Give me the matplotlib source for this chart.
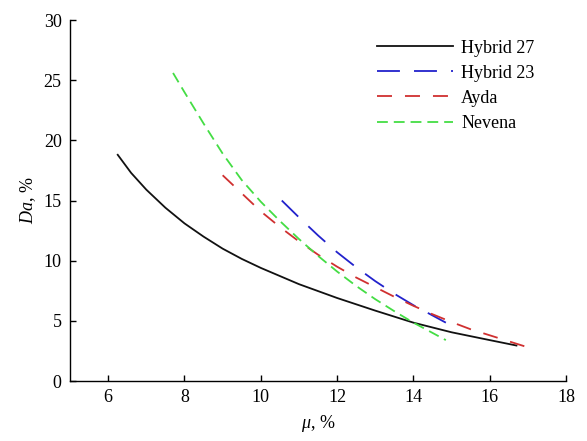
import numpy as np
import matplotlib.pyplot as plt

plt.rcParams['font.family'] = 'Liberation Serif'
plt.rcParams['mathtext.fontset'] = 'custom'
plt.rcParams['mathtext.rm'] = 'Liberation Serif'
plt.rcParams['mathtext.it'] = 'Liberation Serif:italic'

# values
h27_x = [6.25, 6.6, 7.0, 7.5, 8.0, 8.5, 9.0, 9.5, 10.0, 11.0, 12.0, 13.0, 14.0, 15.0, 16.0, 16.7]
h27_y = [18.8, 17.3, 15.9, 14.4, 13.1, 12.0, 11.0, 10.15, 9.4, 8.05, 6.9, 5.85, 4.85, 4.05, 3.4, 2.95]

h23_x = [10.55, 11.0, 11.5, 12.0, 12.5, 13.0, 13.5, 14.0, 14.5, 14.85]
h23_y = [15.0, 13.6, 12.1, 10.7, 9.45, 8.3, 7.25, 6.3, 5.45, 4.85]

ayda_x = [9.0, 9.5, 10.0, 10.5, 11.0, 11.5, 12.0, 12.5, 13.0, 13.5, 14.0, 14.5, 15.0, 15.5, 16.0, 16.5, 16.95]
ayda_y = [17.1, 15.6, 14.1, 12.8, 11.6, 10.5, 9.5, 8.6, 7.8, 7.0, 6.25, 5.55, 4.9, 4.3, 3.8, 3.3, 2.85]

nev_x = [7.7, 8.0, 8.5, 9.0, 9.5, 10.0, 10.5, 11.0, 11.5, 12.0, 12.5, 13.0, 13.5, 14.0, 14.5, 14.85]
nev_y = [25.6, 24.0, 21.4, 18.9, 16.7, 14.9, 13.3, 11.8, 10.4, 9.1, 7.9, 6.8, 5.8, 4.85, 4.0, 3.4]

fig = plt.figure(figsize=(5.87, 4.41), dpi=100)
ax = fig.add_axes([0.1193, 0.136, 0.845, 0.8186])

lw = 1.3
ax.plot(h27_x, h27_y, color='#111111', lw=lw, label='Hybrid 27')
ax.plot(h23_x, h23_y, color='#2222cc', lw=lw, dashes=(12.7, 7.8), label='Hybrid 23')
ax.plot(ayda_x, ayda_y, color='#d03030', lw=lw, dashes=(8.3, 7.2), label='Ayda')
ax.plot(nev_x, nev_y, color='#44dd44', lw=lw, dashes=(6, 3.3), label='Nevena')

ax.set_xlim(5, 18)
ax.set_ylim(0, 30)
ax.set_xticks(np.arange(6, 19, 2))
ax.set_yticks(np.arange(0, 31, 5))
ax.tick_params(direction='in', length=4, width=1, labelsize=13, pad=6)
for s in ['top', 'right']:
    ax.spines[s].set_visible(False)
for s in ['left', 'bottom']:
    ax.spines[s].set_linewidth(1)

ax.set_xlabel(r'$\mu$, %', fontsize=13, labelpad=5)
ax.set_ylabel(r'$\mathit{Da}$, %', fontsize=13, labelpad=4)

ax.legend(loc='upper left', bbox_to_anchor=(0.619, 0.946), frameon=False,
          fontsize=13, handlelength=4.2, handletextpad=0.45, labelspacing=0.45,
          borderpad=0, borderaxespad=0)

fig.savefig('out.png', dpi=100)
